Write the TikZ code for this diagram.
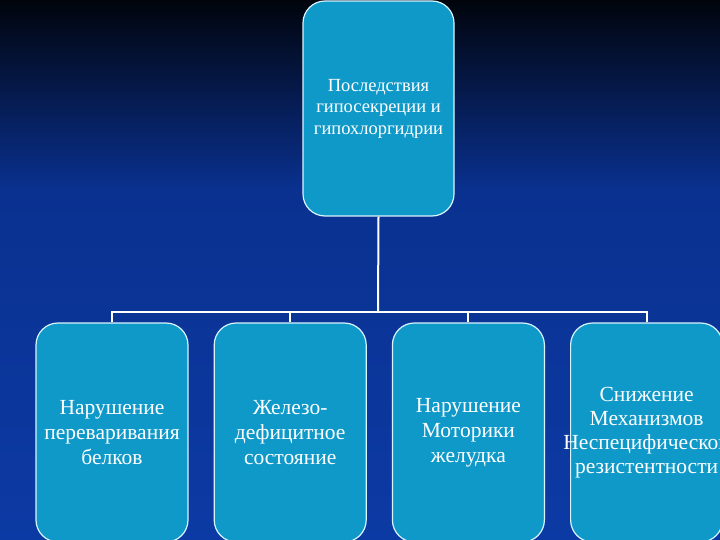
\documentclass[tikz,border=0pt]{standalone}
\usepackage{fontspec}
\setmainfont{Liberation Serif}
\usepackage{tikz}
\usetikzlibrary{positioning}
\definecolor{bgtop}{HTML}{01040C}
\definecolor{bgmid}{HTML}{0A3190}
\definecolor{bgbot}{HTML}{0C3AA4}
\definecolor{boxfill}{HTML}{0F99C9}
\definecolor{rim}{HTML}{D8F4FF}

\begin{document}
\begin{tikzpicture}[x=1pt,y=-1pt,
  card/.style={draw=rim,line width=1.2pt,fill=boxfill,rounded corners=22pt,inner sep=0pt,
    minimum width=152pt,minimum height=219pt,align=center,text=white,
    font=\fontsize{21.5}{25}\selectfont},
  link/.style={draw=white,line width=2pt}]
  \clip (0,0) rectangle (720,540);
  \shade[top color=bgtop,bottom color=bgmid] (0,0) rectangle (720,190);
  \shade[top color=bgmid,bottom color=bgbot] (0,190) rectangle (720,540);
  % root of the tree
  \node[card,minimum width=151pt,minimum height=215pt,font=\fontsize{18.5}{21.5}\selectfont] (root) at (378.5,108.5)
    {Последствия\\гипосекреции и\\гипохлоргидрии};
  % the four consequences
  \node[card] (prot) at (112,432.5) {Нарушение\\переваривания\\белков};
  \node[card,right=25pt of prot] (iron) {Железо-\\дефицитное\\состояние};
  \node[card,right=25pt of iron] (motor) {Нарушение\\Моторики\\желудка};
  \node[card,right=25pt of motor,font=\fontsize{21.5}{24}\selectfont] (resist)
    {Снижение\\Механизмов\\\makebox[100pt][c]{Неспецифической}\\резистентности};
  \coordinate (hub) at (378,312);
  \draw[link] (root.south) -- (hub);
  \foreach \n in {prot,iron,motor,resist}
    \draw[link] (\n.north) |- (hub);
\end{tikzpicture}
\end{document}
